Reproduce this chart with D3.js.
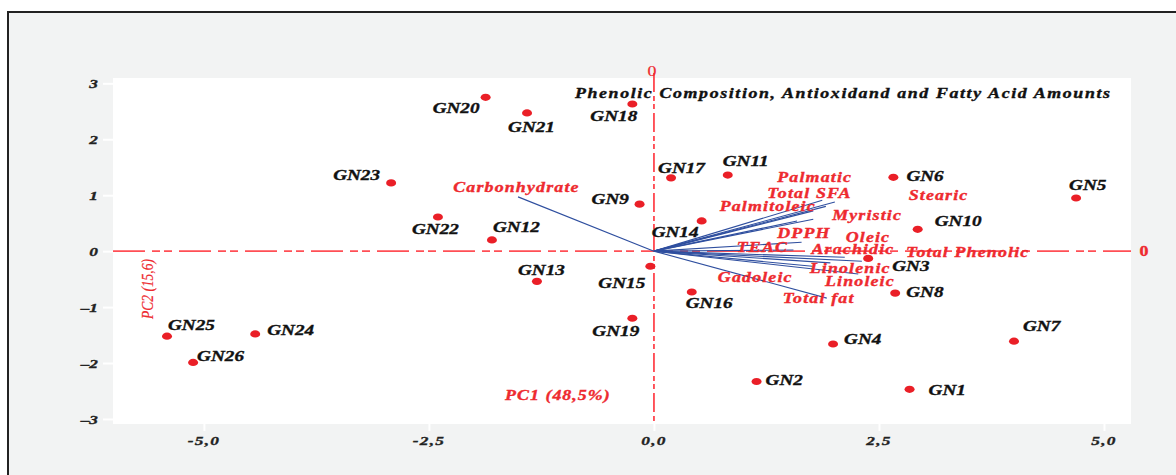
<!DOCTYPE html>
<html>
<head>
<meta charset="utf-8">
<script src="https://cdn.jsdelivr.net/npm/d3@7"></script>
<style>
  body { margin: 0; background: #fff; }
  svg text { font-family: "Liberation Serif", "Times New Roman", serif; }
</style>
</head>
<body>
<svg id="chart" width="1176" height="475"></svg>
<script>
// PCA scores of the samples
const samples = ['GN1','GN2','GN3','GN4','GN5','GN6','GN7','GN8','GN9','GN10','GN11','GN12','GN13',
  'GN14','GN15','GN16','GN17','GN18','GN19','GN20','GN21','GN22','GN23','GN24','GN25','GN26'];
const pc1 = [2.84, 1.14, 2.38, 1.99, 4.69, 2.66, 4.00, 2.68, -0.16, 2.93, 0.82, -1.80, -1.30,
  0.53, -0.04, 0.42, 0.19, -0.24, -0.24, -1.87, -1.41, -2.40, -2.92, -4.43, -5.41, -5.12];
const pc2 = [-2.47, -2.33, -0.13, -1.66, 0.95, 1.32, -1.61, -0.75, 0.84, 0.39, 1.36, 0.20, -0.54,
  0.54, -0.27, -0.73, 1.31, 2.63, -1.20, 2.75, 2.47, 0.61, 1.22, -1.48, -1.52, -1.99];

// loadings (vector ends) of the variables
const variables = ['Carbonhydrate','Palmatic','Total SFA','Stearic','Palmitoleic','Myristic','Oleic',
  'DPPH','TEAC','Arachidic','Total Phenolic','Linolenic','Linoleic','Gadoleic','Total fat'];
const load1 = [-1.51, 1.87, 2.01, 1.91, 1.77, 1.77, 1.59, 1.64, 1.55, 2.12, 2.31, 1.96, 2.27, 1.76, 1.92];
const load2 = [0.97, 0.91, 0.88, 0.80, 0.72, 0.57, 0.54, 0.16, 0.02, -0.11, -0.18, -0.21, -0.41, -0.27, -0.84];

// where the variable names sit (data units, left edge / baseline)
const varLabelX = [-2.23, 1.37, 1.26, 2.83, 0.73, 1.98, 2.13, 1.37, 0.92, 1.75, 2.80, 1.73, 1.90, 0.71, 1.43];
const varLabelY = [1.06, 1.24, 0.95, 0.92, 0.71, 0.55, 0.17, 0.23, -0.02, -0.06, -0.10, -0.39, -0.62, -0.55, -0.93];

const xTicks = [-5, -2.5, 0, 2.5, 5];
const xTickLabels = ['-5,0', '-2,5', '0,0', '2,5', '5,0'];
const yTicks = [3, 2, 1, 0, -1, -2, -3];
const yTickLabels = ['3', '2', '1', '0', '\u20131', '\u20132', '\u20133'];

const title = 'Phenolic Composition, Antioxidand and Fatty Acid Amounts';
const xTitle = 'PC1 (48,5%)';
const yTitle = 'PC2 (15,6)';

// sample label offsets (px from dot to left edge / baseline)
const labelOffset = {
  GN1: [19, 6], GN2: [9, 4], GN3: [24, 13], GN4: [11, 0], GN5: [-7, -8], GN6: [13, 4],
  GN7: [9, -10], GN8: [11, 4], GN9: [-48, 0], GN10: [17, -3], GN11: [-5, -9], GN12: [1, -8],
  GN13: [-19, -6], GN14: [-50, 16], GN15: [-52, 22], GN16: [-6, 16], GN17: [-13, -5],
  GN18: [-42, 17], GN19: [-40, 18], GN20: [-53, 16], GN21: [-19, 19], GN22: [-26, 17],
  GN23: [-58, -3], GN24: [12, 1], GN25: [1, -6], GN26: [4, -1]
};

const stretch = 1.28;   // the original figure is stretched sideways
const plot = { left: 113, right: 1131, top: 78, bottom: 424 };
const red = '#ee2a2f';
const blue = '#2f4f9f';

const svg = d3.select('#chart');

const x = d3.scaleLinear().domain([-6.01, 5.3]).range([plot.left, plot.right]);
const y = d3.scaleLinear().domain([-3.09, 3.095]).range([plot.bottom, plot.top]);

// helper: text placed at (px, py) and stretched horizontally
const addText = (g, str, px, py, opts = {}) => {
  const fill = opts.fill || '#111';
  const t = g.append('text')
    .attr('transform', `translate(${px},${py}) scale(${stretch},1)` + (opts.rotate ? ` rotate(${opts.rotate})` : ''))
    .attr('text-anchor', opts.anchor || 'start')
    .attr('font-size', opts.size || 15)
    .attr('font-weight', opts.weight || 'bold')
    .attr('font-style', opts.style || 'italic')
    .attr('fill', fill)
    .attr('stroke', fill)
    .attr('stroke-width', opts.stroke == null ? 0.35 : opts.stroke)
    .text(str);
  if (opts.spacing) t.attr('letter-spacing', opts.spacing);
  if (opts.length) t.attr('textLength', opts.length).attr('lengthAdjust', 'spacing');
  return t;
};

// frame
svg.append('rect')
  .attr('x', 8).attr('y', 12).attr('width', 1200).attr('height', 500)
  .attr('fill', '#f2f3f3').attr('stroke', '#222').attr('stroke-width', 2);

svg.append('rect')
  .attr('x', plot.left).attr('y', plot.top)
  .attr('width', plot.right - plot.left).attr('height', plot.bottom - plot.top)
  .attr('fill', '#fff');

// axes: white ticks, italic labels
const yAxis = d3.axisLeft(y).tickValues(yTicks).tickSize(10).tickFormat((d, i) => yTickLabels[i]);
const yg = svg.append('g').attr('transform', `translate(${plot.left},0)`).call(yAxis);
yg.select('.domain').remove();
yg.selectAll('.tick line').attr('stroke', '#fff').attr('stroke-width', 2);
yg.selectAll('.tick text').remove();
yTicks.forEach((d, i) => addText(yg, yTickLabels[i], -15, y(d) + 5,
  { anchor: 'end', size: 13.5, fill: '#222' }));

const xAxis = d3.axisBottom(x).tickValues(xTicks).tickSize(7).tickFormat((d, i) => xTickLabels[i]);
const xg = svg.append('g').attr('transform', `translate(0,${plot.bottom})`).call(xAxis);
xg.select('.domain').remove();
xg.selectAll('.tick line').attr('stroke', '#fff').attr('stroke-width', 2);
xg.selectAll('.tick text').remove();
xTicks.forEach((d, i) => addText(xg, xTickLabels[i], x(d), 21,
  { anchor: 'middle', size: 13.5, fill: '#222', spacing: 1 }));

// zero lines (dash-dot)
svg.append('line')
  .attr('x1', plot.left).attr('x2', plot.right).attr('y1', y(0)).attr('y2', y(0))
  .attr('stroke', '#ff4f55').attr('stroke-width', 1.7)
  .attr('stroke-dasharray', '32,7,8,4,8,7');
svg.append('line')
  .attr('x1', x(0)).attr('x2', x(0)).attr('y1', plot.top - 5).attr('y2', plot.bottom)
  .attr('stroke', '#ff3b44').attr('stroke-width', 1.7)
  .attr('stroke-dasharray', '19,4,5,3,5,4');

addText(svg, '0', x(0) - 2, plot.top - 2, { anchor: 'middle', size: 14, weight: 'normal', style: 'normal', fill: red, stroke: 0.2 });
addText(svg, '0', 1144, y(0) + 5, { anchor: 'middle', size: 14, style: 'normal', fill: red });

// loadings
svg.append('g').selectAll('line')
  .data(variables)
  .join('line')
  .attr('x1', x(0)).attr('y1', y(0))
  .attr('x2', (d, i) => x(load1[i]))
  .attr('y2', (d, i) => y(load2[i]))
  .attr('stroke', blue).attr('stroke-width', 1.1);

const varLabels = svg.append('g');
variables.forEach((v, i) => addText(varLabels, v, x(varLabelX[i]), y(varLabelY[i]),
  { size: 14, fill: red, spacing: 0.9 }));

// scores
svg.append('g').selectAll('ellipse')
  .data(samples)
  .join('ellipse')
  .attr('cx', (d, i) => x(pc1[i]))
  .attr('cy', (d, i) => y(pc2[i]))
  .attr('rx', 5).attr('ry', 3.6)
  .attr('fill', '#ea1f27');

const sampleLabels = svg.append('g');
samples.forEach((s, i) => {
  const [dx, dy] = labelOffset[s];
  addText(sampleLabels, s, x(pc1[i]) + dx, y(pc2[i]) + dy, { size: 15, fill: '#111' });
});

// titles
addText(svg, title, 575, 98, { size: 14, fill: '#111', length: (1110 - 575) / stretch });
addText(svg, xTitle, 505, 400, { size: 14, fill: red, spacing: 0.8 });
addText(svg, yTitle, 153, 289, { anchor: 'middle', size: 13.5, weight: 'normal', fill: red, rotate: -90, stroke: 0.15 });
</script>
</body>
</html>
